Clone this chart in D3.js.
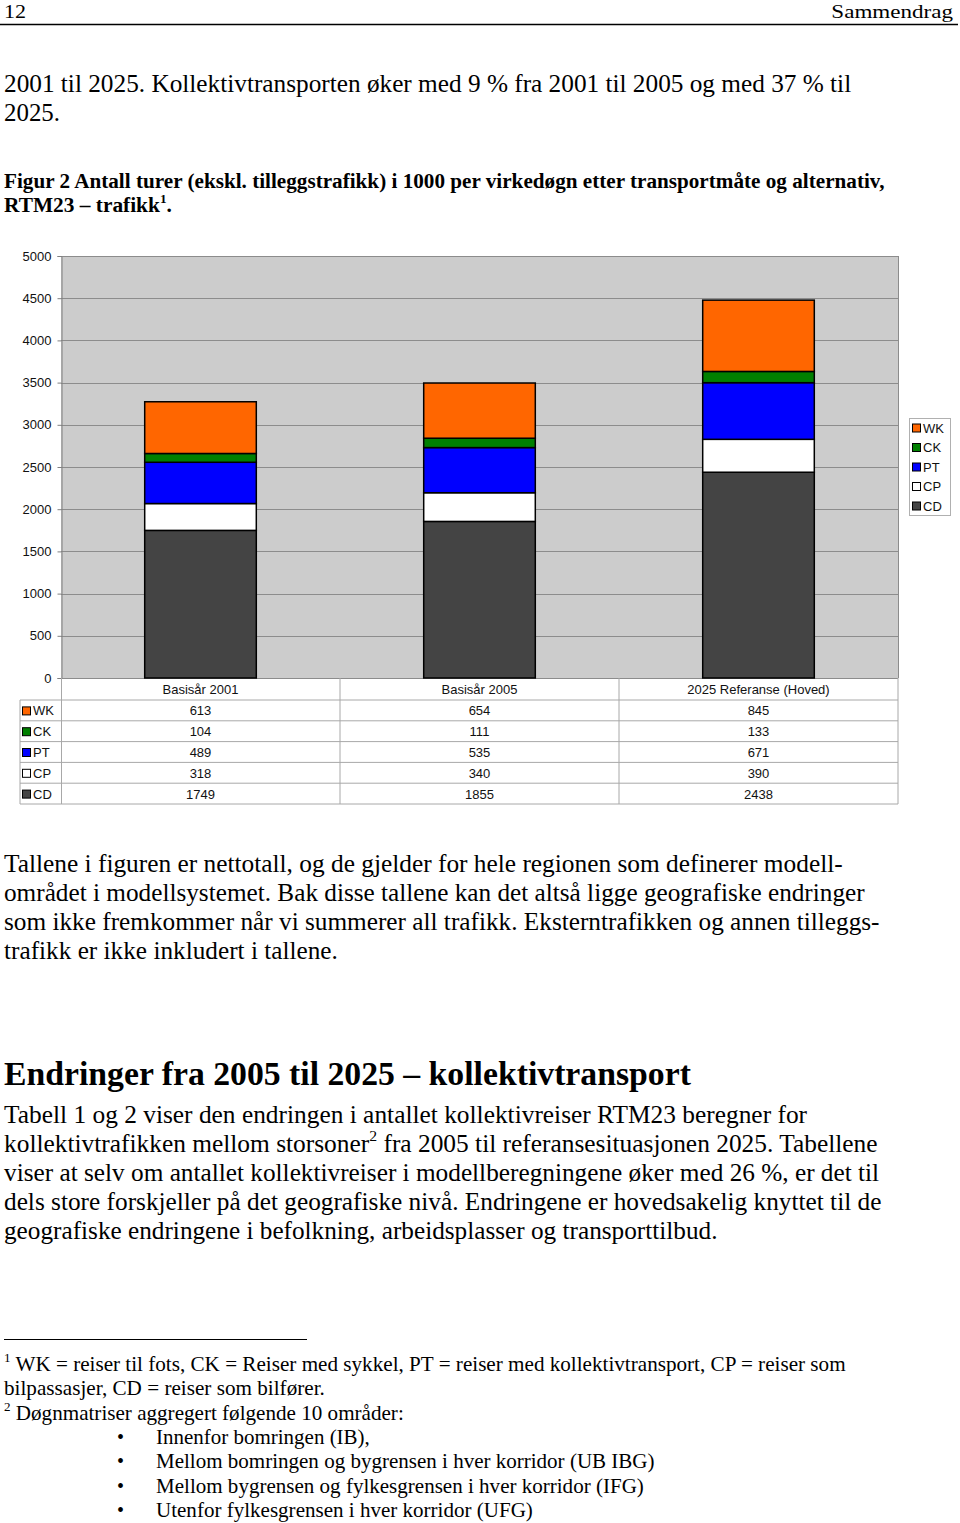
<!DOCTYPE html>
<html><head><meta charset="utf-8">
<script src="https://cdn.jsdelivr.net/npm/d3@7"></script>
<style>body{margin:0;background:#fff} svg{display:block}</style>
</head><body>
<script>
// ---------- DATA ----------
const categories = ["Basisår 2001", "Basisår 2005", "2025 Referanse (Hoved)"];
const seriesKeys = ["WK", "CK", "PT", "CP", "CD"];
const WK = [613, 654, 845];
const CK = [104, 111, 133];
const PT = [489, 535, 671];
const CP = [318, 340, 390];
const CD = [1749, 1855, 2438];
const yTickValues = [0, 500, 1000, 1500, 2000, 2500, 3000, 3500, 4000, 4500, 5000];
const stackOrder = ["CD", "CP", "PT", "CK", "WK"];
const seriesColors = {WK: "#ff6600", CK: "#008000", PT: "#0000ff", CP: "#ffffff", CD: "#444444"};

const seriesValues = {WK, CK, PT, CP, CD};
const table = categories.map((c, i) => {
  const r = {category: c};
  seriesKeys.forEach(k => r[k] = seriesValues[k][i]);
  return r;
});

// ---------- SETUP ----------
const W = 960, H = 1523;
const svg = d3.select("body").append("svg").attr("width", W).attr("height", H);
const serif = "'Liberation Serif','Times New Roman',serif";
const sans = "'Liberation Sans',Arial,sans-serif";

// text line helper: parts = [string | {sup:string}]
function textLine(parts, x, y, size, opts = {}) {
  const t = svg.append("text")
    .attr("x", x).attr("y", y)
    .attr("font-family", opts.family || serif)
    .attr("font-size", size)
    .attr("font-weight", opts.bold ? "bold" : "normal")
    .attr("fill", "#000")
    .attr("text-anchor", opts.anchor || "start")
    .style("white-space", "pre");
  let raised = false;
  parts.forEach(p => {
    if (typeof p === "string") {
      const s = t.append("tspan").text(p);
      if (raised) { s.attr("dy", size * 0.42); raised = false; }
    } else {
      t.append("tspan").text(p.sup).attr("font-size", size * 0.62).attr("dy", -size * 0.42);
      raised = true;
    }
  });
  if (opts.width) {
    const w = t.node().getBBox().width;
    const sx = opts.width / w;
    t.attr("transform", `translate(${x},0) scale(${sx},1) translate(${-x},0)`);
  }
  return t;
}

// ---------- PAGE HEADER ----------
textLine(["12"], 4, 18, 19.5, {width: 22});
textLine(["Sammendrag"], 953, 18, 19.5, {anchor: "end", width: 122});
svg.append("line").attr("x1", 0).attr("x2", 958).attr("y1", 24.5).attr("y2", 24.5)
  .attr("stroke", "#000").attr("stroke-width", 1.5);

textLine(["2001 til 2025. Kollektivtransporten øker med 9 % fra 2001 til 2005 og med 37 % til"], 4, 92, 25, {width: 848});
textLine(["2025."], 4, 121, 25, {width: 56});

textLine(["Figur 2 Antall turer (ekskl. tilleggstrafikk) i 1000 per virkedøgn etter transportmåte og alternativ,"], 4, 188, 21, {bold: true, width: 881});
textLine(["RTM23 – trafikk", {sup: "1"}, "."], 4, 212, 21, {bold: true, width: 168});

// ---------- CHART ----------
const plot = {left: 61, right: 898, top: 256, bottom: 678};
const x = d3.scaleBand().domain(categories).range([plot.left, plot.right]).padding(0);
const y = d3.scaleLinear().domain([0, 5000]).range([plot.bottom, plot.top]);
const barInset = 0.3, barFrac = 0.4;

const g = svg.append("g");
g.append("rect").attr("x", plot.left).attr("y", y(5000))
  .attr("width", plot.right - plot.left).attr("height", y(0) - y(5000))
  .attr("fill", "#cccccc");

g.selectAll(".grid").data(yTickValues).join("line")
  .attr("x1", plot.left).attr("x2", plot.right)
  .attr("y1", d => Math.round(y(d)) + 0.5).attr("y2", d => Math.round(y(d)) + 0.5)
  .attr("stroke", "#8c8c8c").attr("stroke-width", 1);
g.append("line").attr("x1", plot.right + 0.5).attr("x2", plot.right + 0.5)
  .attr("y1", y(5000)).attr("y2", y(0)).attr("stroke", "#8c8c8c");

const yAxis = g.append("g").attr("transform", `translate(${plot.left + 0.5},0)`)
  .call(d3.axisLeft(y).tickValues(yTickValues).tickSize(4).tickPadding(6).tickFormat(d3.format("d")));
yAxis.select(".domain").attr("stroke", "#808080");
yAxis.selectAll(".tick line").attr("stroke", "#808080");
yAxis.selectAll(".tick text").attr("font-family", sans).attr("font-size", 13).attr("fill", "#111");

const stacked = d3.stack().keys(stackOrder)(table);
g.selectAll(".layer").data(stacked).join("g")
  .attr("fill", d => seriesColors[d.key])
  .selectAll("rect").data(d => d).join("rect")
  .attr("x", d => x(d.data.category) + x.bandwidth() * barInset)
  .attr("width", x.bandwidth() * barFrac)
  .attr("y", d => y(d[1]))
  .attr("height", d => y(d[0]) - y(d[1]))
  .attr("stroke", "#000").attr("stroke-width", 1.5);

// ---------- DATA TABLE ----------
const headerBottom = 700, rowH = 20.8, labelLeft = 20;
const tableBottom = headerBottom + rowH * seriesKeys.length;
const tgrid = "#a8a8a8";
for (let i = 0; i <= seriesKeys.length; i++) {
  const yy = headerBottom + i * rowH;
  g.append("line").attr("x1", labelLeft).attr("x2", plot.right).attr("y1", yy).attr("y2", yy)
    .attr("stroke", tgrid).attr("stroke-width", 1);
}
g.append("line").attr("x1", labelLeft).attr("x2", labelLeft).attr("y1", headerBottom).attr("y2", tableBottom).attr("stroke", tgrid);
g.append("line").attr("x1", plot.left + 0.5).attr("x2", plot.left + 0.5).attr("y1", plot.bottom).attr("y2", tableBottom).attr("stroke", tgrid);
categories.forEach(c => {
  const xe = x(c) + x.bandwidth();
  g.append("line").attr("x1", xe).attr("x2", xe).attr("y1", plot.bottom).attr("y2", tableBottom).attr("stroke", tgrid);
});
// header labels
g.selectAll(".hdr").data(categories).join("text")
  .attr("x", d => x(d) + x.bandwidth() / 2).attr("y", (plot.bottom + headerBottom) / 2 + 0.5)
  .attr("text-anchor", "middle").attr("dominant-baseline", "central")
  .attr("font-family", sans).attr("font-size", 13).attr("fill", "#111").text(d => d);
// rows
seriesKeys.forEach((k, i) => {
  const cy = headerBottom + i * rowH + rowH / 2 + 0.5;
  g.append("rect").attr("x", 22.5).attr("y", cy - 4).attr("width", 8).attr("height", 8)
    .attr("fill", seriesColors[k]).attr("stroke", "#000").attr("stroke-width", 1);
  g.append("text").attr("x", 33).attr("y", cy).attr("dominant-baseline", "central")
    .attr("font-family", sans).attr("font-size", 13).attr("fill", "#111").text(k);
  g.selectAll(".cell" + k).data(table).join("text")
    .attr("x", d => x(d.category) + x.bandwidth() / 2).attr("y", cy)
    .attr("text-anchor", "middle").attr("dominant-baseline", "central")
    .attr("font-family", sans).attr("font-size", 13).attr("fill", "#111").text(d => d[k]);
});

// ---------- LEGEND ----------
const lg = svg.append("g");
lg.append("rect").attr("x", 909.5).attr("y", 418.5).attr("width", 41).attr("height", 97)
  .attr("fill", "#fff").attr("stroke", "#b0b0b0");
seriesKeys.forEach((k, i) => {
  const cy = 428 + i * 19.5;
  lg.append("rect").attr("x", 912.5).attr("y", cy - 4).attr("width", 8).attr("height", 8)
    .attr("fill", seriesColors[k]).attr("stroke", "#000").attr("stroke-width", 1);
  lg.append("text").attr("x", 923).attr("y", cy).attr("dominant-baseline", "central")
    .attr("font-family", sans).attr("font-size", 13).attr("fill", "#111").text(k);
});

// ---------- BODY TEXT ----------
const p1 = [
  ["Tallene i figuren er nettotall, og de gjelder for hele regionen som definerer modell-", 839],
  ["området i modellsystemet. Bak disse tallene kan det altså ligge geografiske endringer", 862],
  ["som ikke fremkommer når vi summerer all trafikk. Eksterntrafikken og annen tilleggs-", 876],
  ["trafikk er ikke inkludert i tallene.", 334]
];
p1.forEach((l, i) => textLine([l[0]], 4, 872 + i * 29, 25, {width: l[1]}));

textLine(["Endringer fra 2005 til 2025 – kollektivtransport"], 4, 1085, 33, {bold: true, width: 687});

const p2 = [
  [["Tabell 1 og 2 viser den endringen i antallet kollektivreiser RTM23 beregner for"], 804],
  [["kollektivtrafikken mellom storsoner", {sup: "2"}, " fra 2005 til referansesituasjonen 2025. Tabellene"], 874],
  [["viser at selv om antallet kollektivreiser i modellberegningene øker med 26 %, er det til"], 876],
  [["dels store forskjeller på det geografiske nivå. Endringene er hovedsakelig knyttet til de"], 878],
  [["geografiske endringene i befolkning, arbeidsplasser og transporttilbud."], 714]
];
p2.forEach((l, i) => textLine(l[0], 4, 1123 + i * 29, 25, {width: l[1]}));

// ---------- FOOTNOTES ----------
svg.append("line").attr("x1", 4).attr("x2", 307).attr("y1", 1339.5).attr("y2", 1339.5)
  .attr("stroke", "#000").attr("stroke-width", 1);
textLine([{sup: "1"}, " WK = reiser til fots, CK = Reiser med sykkel, PT = reiser med kollektivtransport, CP = reiser som"], 4, 1371, 21, {width: 842});
textLine(["bilpassasjer, CD = reiser som bilfører."], 4, 1395, 21, {width: 321});
textLine([{sup: "2"}, " Døgnmatriser aggregert følgende 10 områder:"], 4, 1420, 21, {width: 400});
const bullets = [
  ["Innenfor bomringen (IB),", 214],
  ["Mellom bomringen og bygrensen i hver korridor (UB IBG)", 499],
  ["Mellom bygrensen og fylkesgrensen i hver korridor (IFG)", 488],
  ["Utenfor fylkesgrensen i hver korridor (UFG)", 377]
];
bullets.forEach((b, i) => {
  const by = 1444 + i * 24.3;
  textLine(["•"], 117, by, 20);
  textLine([b[0]], 156, by, 21, {width: b[1]});
});
</script>
</body></html>
